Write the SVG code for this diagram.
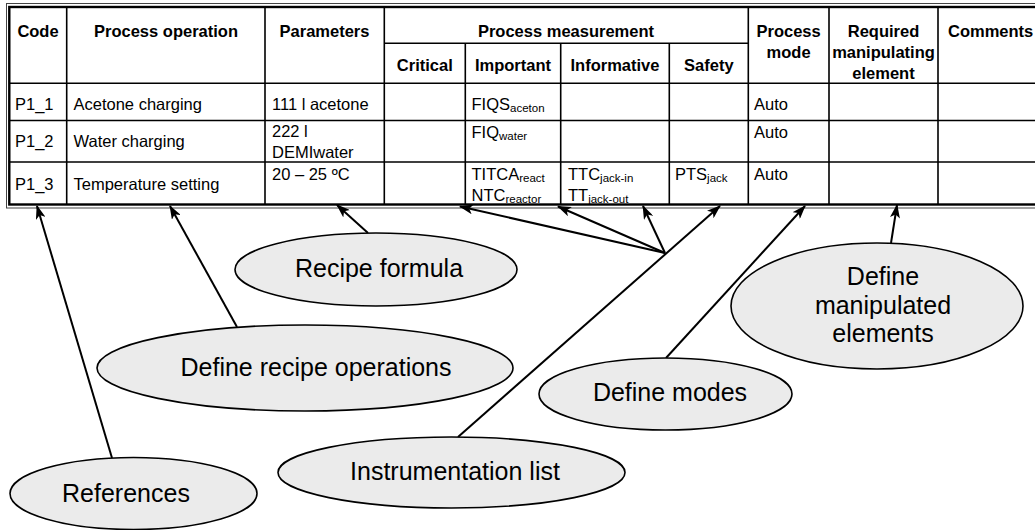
<svg xmlns="http://www.w3.org/2000/svg" width="1035" height="530" viewBox="0 0 1035 530">
<style>
.h{font-family:"Liberation Sans",Arial,sans-serif;font-weight:bold;font-size:16.5px;text-anchor:middle;fill:#000}
.t{font-family:"Liberation Sans",Arial,sans-serif;font-size:16.5px;fill:#000}
.s{font-size:11.5px}
.e{font-family:"Liberation Sans",Arial,sans-serif;font-size:25px;text-anchor:middle;fill:#000}
.grid{stroke:#000;stroke-width:1.6;fill:none}
.outer{stroke:#000;stroke-width:2.4;fill:none}
.outer2{stroke:#444;stroke-width:1;fill:none}
.bubble{fill:#ebebeb;stroke:#000;stroke-width:1.6}
.con{stroke:#000;stroke-width:2;fill:none}
</style>
<defs>
<marker id="arr" markerUnits="userSpaceOnUse" markerWidth="14" markerHeight="10" refX="13" refY="5" orient="auto">
<path d="M0,0 L14,5 L0,10 L3.5,5 z" fill="#000"/>
</marker>
</defs>
<rect width="1035" height="530" fill="#fff"/>
<g id="table">
<rect class="outer2" x="6.5" y="3.5" width="1040" height="204.5"/>
<rect class="outer" x="9.3" y="7" width="1040" height="197.5"/>
<path class="grid" d="M9.3,83.3H1040M9.3,120.5H1040M9.3,162H1040M384.3,43.3H748.3M66.7,7V204.5M265,7V204.5M384.3,7V204.5M465.3,43.3V204.5M560.7,43.3V204.5M669.3,43.3V204.5M748.3,7V204.5M829,7V204.5M938,7V204.5"/>
<text class="h" x="38" y="37">Code</text>
<text class="h" x="166" y="37">Process operation</text>
<text class="h" x="324.5" y="37">Parameters</text>
<text class="h" x="566" y="37">Process measurement</text>
<text class="h" x="424.8" y="71">Critical</text>
<text class="h" x="513" y="71">Important</text>
<text class="h" x="615" y="71">Informative</text>
<text class="h" x="708.8" y="71">Safety</text>
<text class="h" x="788.6" y="37">Process</text>
<text class="h" x="788.6" y="58">mode</text>
<text class="h" x="883.5" y="37">Required</text>
<text class="h" x="883.5" y="58">manipulating</text>
<text class="h" x="883.5" y="78.5">element</text>
<text class="h" x="948" y="37" style="text-anchor:start">Comments</text>
<text class="t" x="15" y="110">P1_1</text>
<text class="t" x="73.5" y="110">Acetone charging</text>
<text class="t" x="272" y="110">111 l acetone</text>
<text class="t" x="471.5" y="110">FIQS<tspan class="s" dy="2">aceton</tspan></text>
<text class="t" x="754" y="110">Auto</text>
<text class="t" x="15" y="147">P1_2</text>
<text class="t" x="73.5" y="147">Water charging</text>
<text class="t" x="272" y="136.5">222 l</text>
<text class="t" x="272" y="157.5">DEMIwater</text>
<text class="t" x="471.5" y="138">FIQ<tspan class="s" dy="2">water</tspan></text>
<text class="t" x="754" y="138">Auto</text>
<text class="t" x="15" y="190">P1_3</text>
<text class="t" x="73.5" y="190">Temperature setting</text>
<text class="t" x="272" y="179.5">20 – 25 ºC</text>
<text class="t" x="471.5" y="180">TITCA<tspan class="s" dy="2">react</tspan></text>
<text class="t" x="471.5" y="200.5">NTC<tspan class="s" dy="2">reactor</tspan></text>
<text class="t" x="568" y="180">TTC<tspan class="s" dy="2">jack-in</tspan></text>
<text class="t" x="568" y="200.5">TT<tspan class="s" dy="2">jack-out</tspan></text>
<text class="t" x="675" y="180">PTS<tspan class="s" dy="2">jack</tspan></text>
<text class="t" x="754" y="180">Auto</text>
</g>
<g id="connectors">
<line class="con" x1="112" y1="458" x2="37" y2="206" marker-end="url(#arr)"/>
<line class="con" x1="237" y1="327" x2="170" y2="206" marker-end="url(#arr)"/>
<line class="con" x1="368" y1="233" x2="337" y2="205" marker-end="url(#arr)"/>
<line class="con" x1="458" y1="437" x2="720" y2="206" marker-end="url(#arr)"/>
<line class="con" x1="665" y1="253" x2="460" y2="206.5" marker-end="url(#arr)"/>
<line class="con" x1="665" y1="253" x2="558" y2="206.5" marker-end="url(#arr)"/>
<line class="con" x1="665" y1="253" x2="643" y2="206" marker-end="url(#arr)"/>
<line class="con" x1="666" y1="358" x2="805" y2="206" marker-end="url(#arr)"/>
<line class="con" x1="891" y1="243" x2="897" y2="205" marker-end="url(#arr)"/>
</g>
<g id="recipe-formula">
<ellipse class="bubble" cx="376" cy="269.5" rx="141" ry="36.5"/>
<text class="e" x="379" y="277">Recipe formula</text>
</g>
<g id="define-recipe-operations">
<ellipse class="bubble" cx="305" cy="368" rx="208" ry="43"/>
<text class="e" x="316" y="376">Define recipe operations</text>
</g>
<g id="define-modes">
<ellipse class="bubble" cx="665.5" cy="394" rx="126.5" ry="36"/>
<text class="e" x="670" y="401">Define modes</text>
</g>
<g id="define-manipulated-elements">
<ellipse class="bubble" cx="877" cy="306" rx="146" ry="63"/>
<text class="e" x="883" y="285">Define</text>
<text class="e" x="883" y="313.5">manipulated</text>
<text class="e" x="883" y="342">elements</text>
</g>
<g id="instrumentation-list">
<ellipse class="bubble" cx="451.5" cy="472.5" rx="173.5" ry="35.5"/>
<text class="e" x="455" y="480">Instrumentation list</text>
</g>
<g id="references">
<ellipse class="bubble" cx="133.5" cy="493.5" rx="123.5" ry="36"/>
<text class="e" x="126" y="502">References</text>
</g>
</svg>
